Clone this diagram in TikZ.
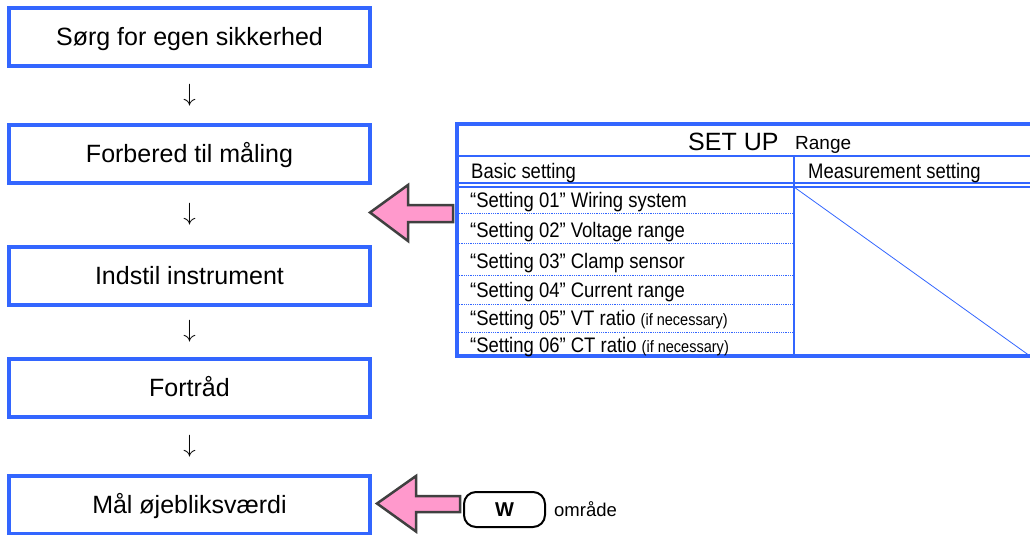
\documentclass[tikz,border=0pt]{standalone}
\usepackage{fontspec}
\setmainfont{Liberation Sans}
\newfontfamily\condfont[FakeStretch=0.88]{Liberation Sans}
\usepackage{tikz}
\usetikzlibrary{positioning}

\definecolor{boxblue}{RGB}{51,102,255}
\definecolor{arrowpink}{RGB}{255,153,204}
\definecolor{arrowgray}{RGB}{64,64,64}

\begin{document}
\begin{tikzpicture}[x=1pt,y=-1pt,
    stepbox/.style={draw=boxblue, line width=4pt, minimum width=360.5pt, minimum height=58pt,
      inner sep=0pt, text height=18pt, text depth=0pt, font=\fontsize{25}{28}\selectfont},
    downglyph/.style={inner sep=0pt, font=\fontsize{26}{28}\selectfont},
    rowtext/.style={anchor=base west, inner sep=0pt, font=\condfont\fontsize{21}{23}\selectfont},
    pinkarrow/.style={fill=arrowpink, draw=arrowgray, line width=2.5pt, line join=miter}]
  \clip (0,0) rectangle (1030,535);

  % create steps
  \node[stepbox] (sikkerhed) at (189.5,37) {Sørg for egen sikkerhed};
  \node[stepbox] (maaling) at (189.5,153.5) {Forbered til måling};
  \node[stepbox] (indstil) at (189.5,275.5) {Indstil instrument};
  \node[stepbox] (fortraad) at (189.5,387.5) {Fortråd};
  \node[stepbox] (maal) at (189.5,504.5) {Mål øjebliksværdi};

  % arrows between steps
  \path (sikkerhed) -- (maaling) node[midway, downglyph] (pil1) {$\downarrow$};
  \path (maaling) -- (indstil) node[midway, downglyph] (pil2) {$\downarrow$};
  \path (indstil) -- (fortraad) node[midway, downglyph] (pil3) {$\downarrow$};
  \path (fortraad) -- (maal) node[midway, downglyph] (pil4) {$\downarrow$};

  % Draw table frame
  \draw[boxblue, line width=4pt] (457,124) rectangle (1034,356);
  \draw[boxblue, line width=2pt] (457,156) -- (1034,156);
  \draw[boxblue, line width=2pt] (457,182.5) -- (1034,182.5);
  \draw[boxblue, line width=2pt] (457,187) -- (1034,187);
  \draw[boxblue, line width=2pt] (794,156) -- (794,356);
  \foreach \y in {213,243,275,304,332} {
    \draw[boxblue, densely dotted, line width=0.8pt] (457,\y) -- (794,\y);
  }
  \draw[boxblue, line width=0.8pt] (794,187) -- (1030,356);

  % table labels
  \node[anchor=base west, inner sep=0pt, font=\fontsize{25}{28}\selectfont] (setup) at (688,150) {SET UP};
  \node[anchor=base west, inner sep=0pt, font=\fontsize{19}{21}\selectfont] (range) at (795,149) {Range};
  \node[rowtext] (basic) at (471,178) {Basic setting};
  \node[rowtext] (measure) at (808,178) {Measurement setting};
  \foreach \yb/\txt [count=\i] in {207/{“Setting 01” Wiring system},
      237/{“Setting 02” Voltage range},
      268/{“Setting 03” Clamp sensor},
      297/{“Setting 04” Current range},
      325/{“Setting 05” VT ratio {\fontsize{16.5}{18}\selectfont(if necessary)}},
      352/{“Setting 06” CT ratio {\fontsize{16.5}{18}\selectfont(if necessary)}}} {
    \node[rowtext] (row\i) at (470,\yb) {\txt};
  }

  % pink arrows
  \draw[pinkarrow] (453,205) -- (408,205) -- (408,185) -- (370,212.5) -- (408,241)
    -- (408,222) -- (453,222) -- cycle;
  \draw[pinkarrow] (460,496) -- (416,496) -- (416,476) -- (377,503.5) -- (416,531.5)
    -- (416,512) -- (460,512) -- cycle;

  % key and range
  \node[draw, line width=2pt, rounded corners=12pt, minimum width=81pt, minimum height=35pt,
    font=\bfseries\fontsize{20}{22}\selectfont] (wkey) at (504.5,509.5) {W};
  \node[right=8pt of wkey, inner sep=0pt, font=\fontsize{18.5}{20}\selectfont] (omraade) {område};
\end{tikzpicture}
\end{document}
